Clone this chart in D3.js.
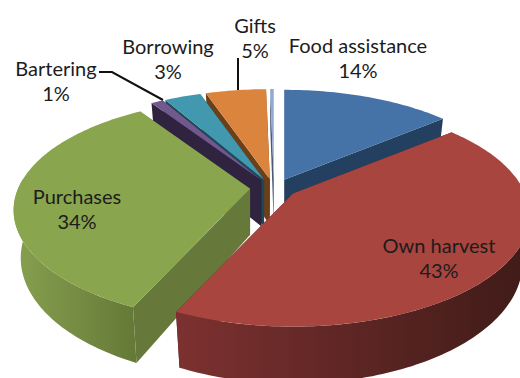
<!DOCTYPE html>
<html>
<head>
<meta charset="utf-8">
<script src="https://cdnjs.cloudflare.com/ajax/libs/d3/7.8.5/d3.min.js"></script>
<style>
  html, body { margin: 0; padding: 0; background: #fff; overflow: hidden; }
  svg { display: block; }
  text { font-family: Lato, "Open Sans", sans-serif; font-size: 20px; fill: #1c1c1c; text-anchor: middle; }
</style>
</head>
<body>
<svg id="chart" width="520" height="378"></svg>
<script>
// Food sources by share of households
const categories = ["Food assistance", "Own harvest", "Purchases", "Bartering", "Borrowing", "Gifts", "Other"];
const shares = [14, 43, 34, 1, 3, 5, 0.3];
const topColors = ["#4572a7", "#a8453f", "#89a54e", "#71588f", "#4198af", "#db843d", "#93a9cf"];
const wallColors = ["#234060", "#5a2320", "#66793a", "#2f2340", "#1d4a56", "#6b3f1a", "#4a5a78"];
const rimStops = [
  ["#2a4a70", "#223e5e"],
  ["#7c3130", "#3f1b18"],
  ["#86a04f", "#667a38"],
  ["#3a2c50", "#2f2340"],
  ["#246070", "#1d4a56"],
  ["#80501f", "#6b3f1a"],
  ["#5a6a88", "#4a5a78"]
];

// Tilted disc with perspective: v runs toward the viewer
const cx = 274, cy = 188;
const Rx = 232, Ry = 107.4, persp = 0.193;
const depth = 46, taper = 0.97;
const explodeX = 24, explodeY = 9;

const svg = d3.select("#chart");
const defs = svg.append("defs");
const line = d3.line().x(d => d[0]).y(d => d[1]);

const pie = d3.pie().sort(null).value(d => d).startAngle(0).endAngle(2 * Math.PI);
const arcs = pie(shares).map((a, i) => {
  const mid = (a.startAngle + a.endAngle) / 2;
  return {
    ...a, i, mid,
    ox: cx + explodeX * Math.sin(mid),
    oy: cy - explodeY * Math.cos(mid)
  };
});

function topPoint(s, angle) {
  const u = Math.sin(angle), v = -Math.cos(angle);
  const w = 1 - persp * v;
  return [s.ox + Rx * u / w, s.oy + Ry * v / w];
}
function lowPoint(s, angle) {
  const u = Math.sin(angle), v = -Math.cos(angle);
  const w = 1 - persp * v;
  return [s.ox + taper * Rx * u / w, s.oy + Ry * v / w + depth / w];
}
function samples(a0, a1) {
  const n = Math.max(2, Math.ceil((a1 - a0) / 0.02));
  return d3.range(n + 1).map(k => a0 + (a1 - a0) * k / n);
}
const apex = s => [s.ox, s.oy];
const apexLow = s => [s.ox, s.oy + depth];

// Paint from the back of the disc to the front
const order = arcs.slice().sort((a, b) => (-Math.cos(a.mid)) - (-Math.cos(b.mid)));

order.forEach(s => {
  const g = svg.append("g");
  const wall = wallColors[s.i];

  // Radial cut faces
  [s.startAngle, s.endAngle].forEach(angle => {
    g.append("path")
      .attr("d", line([apex(s), topPoint(s, angle), lowPoint(s, angle), apexLow(s)]) + "Z")
      .attr("fill", wall);
  });

  // Curved rim, only where it turns toward the viewer
  const from = Math.max(s.startAngle, Math.PI / 2 - 0.1);
  const to = Math.min(s.endAngle, 3 * Math.PI / 2 + 0.1);
  if (to > from) {
    const id = "rim" + s.i;
    const angles = samples(from, to);
    const xs = angles.map(a => topPoint(s, a)[0]);
    const grad = defs.append("linearGradient").attr("id", id)
      .attr("gradientUnits", "userSpaceOnUse")
      .attr("x1", d3.min(xs)).attr("x2", d3.max(xs)).attr("y1", 0).attr("y2", 0);
    const stops = rimStops[s.i];
    grad.append("stop").attr("offset", 0).attr("stop-color", stops[0]);
    grad.append("stop").attr("offset", 1).attr("stop-color", stops[1]);
    g.append("path")
      .attr("d", line(angles.map(a => topPoint(s, a)).concat(angles.slice().reverse().map(a => lowPoint(s, a)))) + "Z")
      .attr("fill", `url(#${id})`);
  }

  // Top face
  g.append("path")
    .attr("d", line([apex(s)].concat(samples(s.startAngle, s.endAngle).map(a => topPoint(s, a)))) + "Z")
    .attr("fill", topColors[s.i]);
});

// Leader lines for the two labels that sit away from their slices
const leaders = [
  [[99, 72], [112, 72], [163, 100]],
  [[238, 58], [238, 90]]
];
svg.selectAll("path.leader").data(leaders).join("path")
  .attr("class", "leader")
  .attr("d", d => line(d))
  .attr("fill", "none")
  .attr("stroke", "#111")
  .attr("stroke-width", 2);

// Two-line labels: category name above its share
const labelAnchors = [[358, 53], [439, 253], [77, 204], [56, 76], [168, 54], [255, 33]];
labelAnchors.forEach((p, i) => {
  const t = svg.append("text").attr("x", p[0]).attr("y", p[1]);
  t.append("tspan").attr("x", p[0]).text(categories[i]);
  t.append("tspan").attr("x", p[0]).attr("dy", 25).text(shares[i] + "%");
});
</script>
</body>
</html>
